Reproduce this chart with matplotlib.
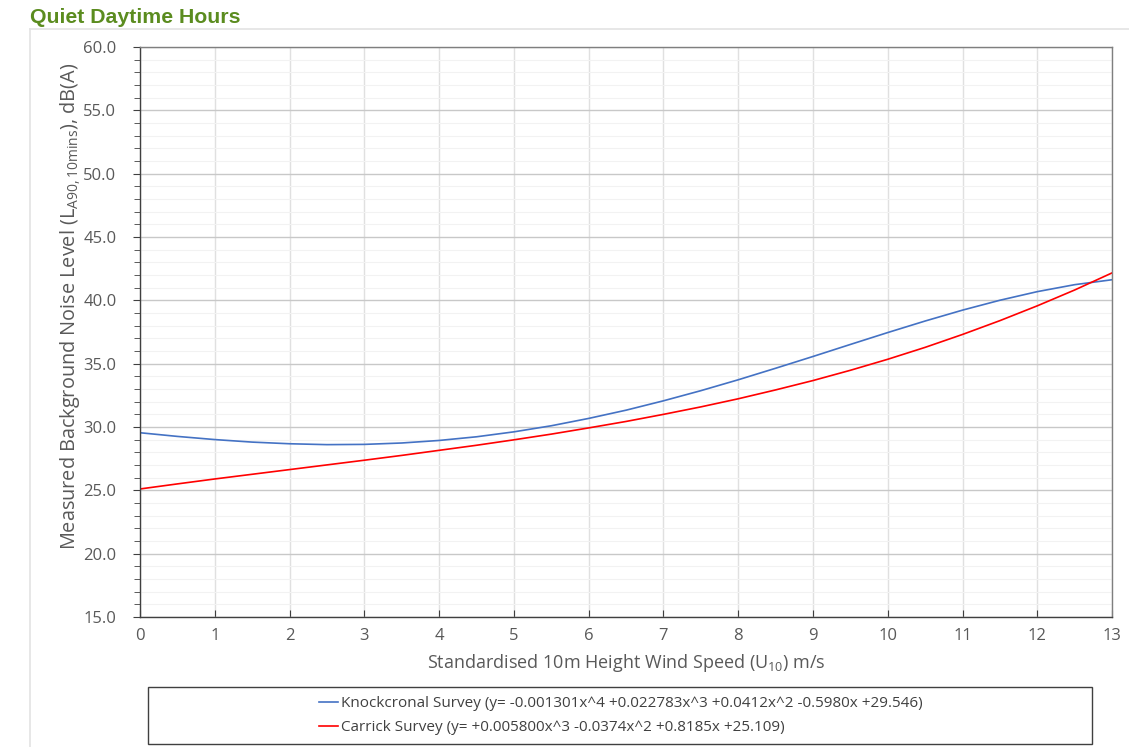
import matplotlib
matplotlib.use("Agg")
import matplotlib.pyplot as plt
from matplotlib.patches import Rectangle
from matplotlib.lines import Line2D
from matplotlib.ticker import MultipleLocator

plt.rcParams['font.family'] = ['Open Sans', 'DejaVu Sans']
plt.rcParams['mathtext.fontset'] = 'custom'
plt.rcParams['mathtext.rm'] = 'Open Sans'
plt.rcParams['mathtext.it'] = 'Open Sans'

# wind speed (m/s) and fitted background noise levels
wind = [0, 0.5, 1, 1.5, 2, 2.5, 3, 3.5, 4, 4.5, 5, 5.5, 6, 6.5, 7,
        7.5, 8, 8.5, 9, 9.5, 10, 10.5, 11, 11.5, 12, 12.5, 13]
knockcronal = [29.55, 29.26, 29.01, 28.81, 28.68, 28.61, 28.63, 28.74, 28.94,
               29.23, 29.62, 30.10, 30.68, 31.33, 32.07, 32.87, 33.73, 34.64,
               35.57, 36.52, 37.46, 38.37, 39.23, 40.01, 40.69, 41.24, 41.63]
carrick = [25.11, 25.51, 25.90, 26.27, 26.64, 27.01, 27.38, 27.76, 28.16,
           28.56, 28.99, 29.44, 29.93, 30.44, 31.00, 31.59, 32.23, 32.93,
           33.67, 34.48, 35.35, 36.29, 37.31, 38.40, 39.57, 40.82, 42.17]

knock_label = "Knockcronal Survey (y= -0.001301x^4 +0.022783x^3 +0.0412x^2 -0.5980x +29.546)"
carrick_label = "Carrick Survey (y= +0.005800x^3 -0.0374x^2 +0.8185x +25.109)"

fig = plt.figure(figsize=(11.29, 7.47), dpi=100)
ax = fig.add_axes([0.124, 0.174, 0.861, 0.763])

# outer chart frame and title
fig.add_artist(Line2D([0.027, 1.0], [0.961, 0.961], color='#e3e3e3', lw=1.2))
fig.add_artist(Line2D([0.027, 0.027], [0.0, 0.961], color='#e3e3e3', lw=1.2))
fig.text(0.027, 0.976, "Quiet Daytime Hours", color='#5b8c1f', fontsize=15.3,
         fontweight='bold', family='Liberation Sans', va='center', ha='left')

l1, = ax.plot(wind, knockcronal, color='#4472c4', lw=1.2)
l2, = ax.plot(wind, carrick, color='#ff0000', lw=1.2)

ax.set_xlim(0, 13)
ax.set_ylim(15, 60)
ax.xaxis.set_major_locator(MultipleLocator(1))
ax.yaxis.set_major_locator(MultipleLocator(5))
ax.yaxis.set_minor_locator(MultipleLocator(1))
ax.yaxis.set_major_formatter(lambda v, p: f"{v:.1f}")

ax.grid(True, which='major', axis='y', color='#c8c8c8', lw=1.0)
ax.grid(True, which='minor', axis='y', color='#f2f2f2', lw=0.8)
ax.grid(True, which='major', axis='x', color='#e0e0e0', lw=1.0)
ax.set_axisbelow(True)

for s in ax.spines.values():
    s.set_color('#7f7f7f')
    s.set_linewidth(1.0)
ax.spines['left'].set_color('#404040')
ax.spines['bottom'].set_color('#404040')

ax.tick_params(axis='x', which='major', direction='in', length=5, color='#404040',
               labelsize=12, labelcolor='#595959', pad=8)
ax.tick_params(axis='y', which='major', direction='out', length=5, color='#404040',
               labelsize=12, labelcolor='#595959', pad=12)
ax.tick_params(axis='y', which='minor', direction='out', length=4, color='#404040')

ax.set_xlabel("Standardised 10m Height Wind Speed (U$_{10}$) m/s", fontsize=13,
              color='#595959', labelpad=6)
ax.set_ylabel("Measured Background Noise Level (L$_{A90,10mins}$), dB(A)", fontsize=14.3,
              color='#595959')
ax.yaxis.set_label_coords(-0.059, 0.545)

# legend box
fig.add_artist(Rectangle((0.131, 0.004), 0.836, 0.076, transform=fig.transFigure,
                         fill=False, edgecolor='#404040', lw=1.0))
fig.legend([l1, l2], [knock_label, carrick_label], loc='center',
           bbox_to_anchor=(0.55, 0.042), frameon=False, fontsize=11,
           labelcolor='#404040', handlelength=1.2, handletextpad=0.2,
           labelspacing=0.6)

fig.savefig("out.png", dpi=100)
